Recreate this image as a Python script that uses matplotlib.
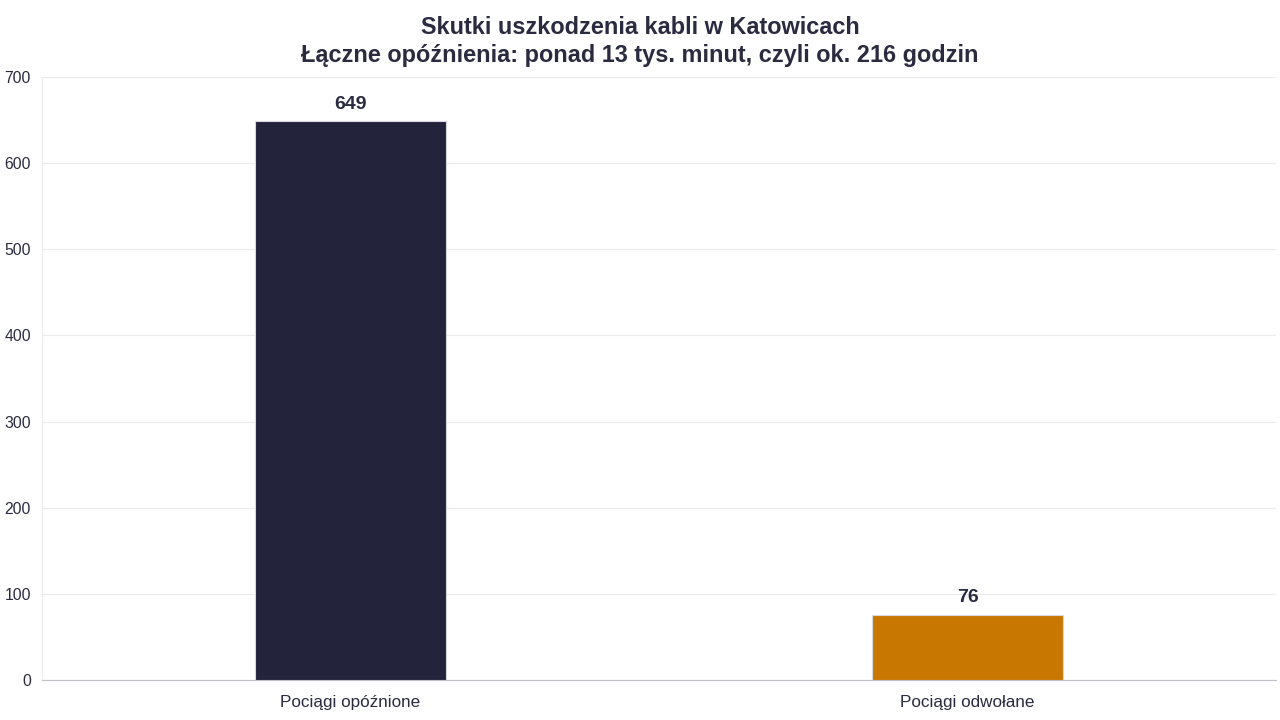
import numpy as np
import matplotlib.pyplot as plt

plt.rcParams['font.family'] = ['Liberation Sans', 'DejaVu Sans']

categories = ['Pociągi opóźnione', 'Pociągi odwołane']
values = [649, 76]
colours = ['#23233b', '#c87800']
title = 'Skutki uszkodzenia kabli w Katowicach\nŁączne opóźnienia: ponad 13 tys. minut, czyli ok. 216 godzin'

text_col = '#2a2a40'

fig = plt.figure(figsize=(12.8, 7.2), dpi=100)
ax = fig.add_axes([0.0328, 0.0556, 0.9642, 0.8374])

x = np.arange(len(categories))
bars = ax.bar(x, values, width=0.31, color=colours, edgecolor='#d8d8e0', linewidth=0.8, zorder=3)

for b, v in zip(bars, values):
    ax.annotate(str(v), (b.get_x() + b.get_width() / 2, v), xytext=(0, 6),
                textcoords='offset points', ha='center', va='bottom',
                fontsize=14, fontweight='bold', color=text_col)

ax.set_xlim(-0.5, 1.5)
ax.set_ylim(0, 700)
ax.set_yticks(np.arange(0, 701, 100))
ax.set_xticks(x)
ax.set_xticklabels(categories)
ax.tick_params(axis='x', length=0, labelsize=12.3, labelcolor=text_col, pad=11)
ax.tick_params(axis='y', length=0, labelsize=11.3, labelcolor=text_col, pad=8)
ax.grid(axis='y', color='#ebebeb', linewidth=0.8, zorder=0)

for s in ['top', 'right']:
    ax.spines[s].set_visible(False)
ax.spines['left'].set_color('#ebebeb')
ax.spines['bottom'].set_color('#c0c0c8')

fig.suptitle(title, fontsize=16.9, fontweight='bold', color=text_col, y=0.978, linespacing=1.3)

fig.savefig('out.png', dpi=100)
